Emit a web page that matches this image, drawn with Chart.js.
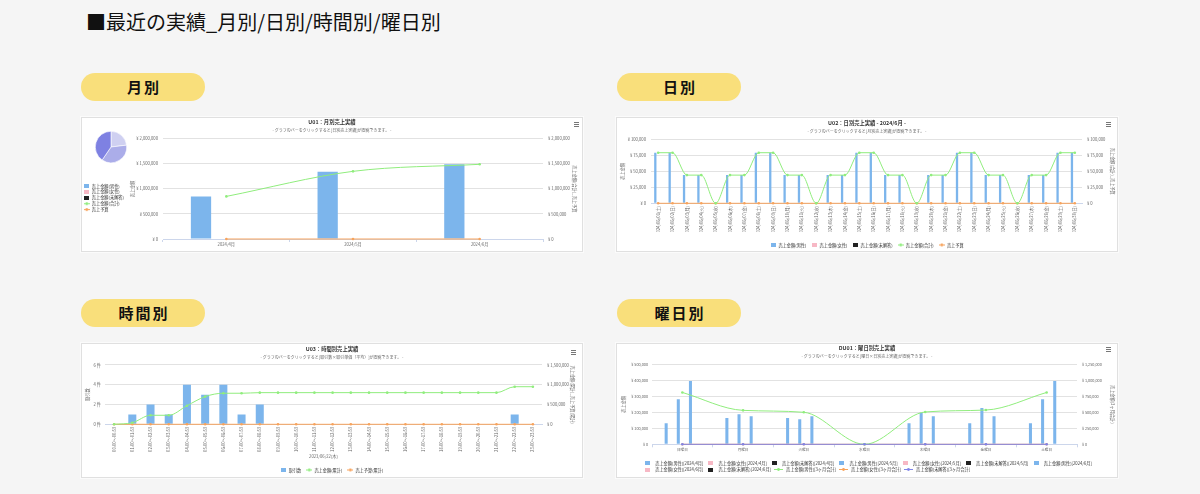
<!DOCTYPE html>
<html lang="ja">
<head>
<meta charset="utf-8">
<title>最近の実績</title>
<script src="https://cdn.jsdelivr.net/npm/chart.js@4.4.1/dist/chart.umd.min.js"></script>
<style>
html,body{margin:0;padding:0;}
body{width:1200px;height:494px;background:#f5f5f5;position:relative;overflow:hidden;font-family:'Noto Sans CJK JP','Noto Sans',sans-serif;}
.page-title{position:absolute;left:86px;top:9px;font-size:20px;line-height:26px;font-weight:400;color:#111;white-space:nowrap;}
.pill{position:absolute;width:124px;height:28px;border-radius:14px;background:#f9df7b;text-align:center;line-height:28px;font-size:15px;font-weight:bold;letter-spacing:2px;text-indent:2px;color:#111;}
.card{position:absolute;width:500px;height:133px;background:#fff;border:1px solid #e0e0e0;box-shadow:0 0 0 1px #fbfbfb;}
.card canvas{position:absolute;left:0;top:0;}
.menu{position:absolute;width:5px;height:5px;background:repeating-linear-gradient(#777 0 1px,transparent 1px 2px);}
</style>
</head>
<body>
<div class="page-title">■最近の実績_月別/日別/時間別/曜日別</div>
<div class="pill" style="left:81px;top:73px">月別</div>
<div class="pill" style="left:617px;top:73px">日別</div>
<div class="pill" style="left:81px;top:299px">時間別</div>
<div class="pill" style="left:617px;top:299px">曜日別</div>

<div class="card" style="left:81px;top:117px">
  <canvas id="c1" width="500" height="133" style="width:500px;height:133px"></canvas>
  <canvas id="c1pie" width="32" height="32" style="left:13px;top:13px;width:32px;height:32px"></canvas>
  <div class="menu" style="left:492px;top:4px"></div>
</div>
<div class="card" style="left:616px;top:117px">
  <canvas id="c2" width="500" height="133" style="width:500px;height:133px"></canvas>
  <div class="menu" style="left:489px;top:4px"></div>
</div>
<div class="card" style="left:81px;top:343px">
  <canvas id="c3" width="500" height="133" style="width:500px;height:133px"></canvas>
  <div class="menu" style="left:489px;top:6px"></div>
</div>
<div class="card" style="left:616px;top:343px">
  <canvas id="c4" width="500" height="133" style="width:500px;height:133px"></canvas>
  <div class="menu" style="left:489px;top:3px"></div>
</div>

<script>
// ---------------- data ----------------
const monthCategories = ['2024/4月', '2024/5月', '2024/6月'];
const monthMale = [850000, 1340000, 1490000];
const monthFemale = [0, 0, 0];
const monthUnknown = [0, 0, 0];
const monthTotal = [850000, 1350000, 1490000];
const monthBudget = [0, 0, 0];
const monthAxisTicks = [0, 500000, 1000000, 1500000, 2000000];

const dayCategories = ['2024/06/01(土)','2024/06/02(日)','2024/06/03(月)','2024/06/04(火)','2024/06/05(水)','2024/06/06(木)','2024/06/07(金)','2024/06/08(土)','2024/06/09(日)','2024/06/10(月)','2024/06/11(火)','2024/06/12(水)','2024/06/13(木)','2024/06/14(金)','2024/06/15(土)','2024/06/16(日)','2024/06/17(月)','2024/06/18(火)','2024/06/19(水)','2024/06/20(木)','2024/06/21(金)','2024/06/22(土)','2024/06/23(日)','2024/06/24(月)','2024/06/25(火)','2024/06/26(水)','2024/06/27(木)','2024/06/28(金)','2024/06/29(土)','2024/06/30(日)'];
const dayMale = [79000,79000,44000,44000,0,44000,44000,79000,79000,44000,44000,0,44000,44000,79000,79000,44000,44000,0,44000,44000,79000,79000,44000,44000,0,44000,44000,79000,79000];
const dayFemale = [0,0,0,0,0,0,0,0,0,0,0,0,0,0,0,0,0,0,0,0,0,0,0,0,0,0,0,0,0,0];
const dayUnknown = [0,0,0,0,0,0,0,0,0,0,0,0,0,0,0,0,0,0,0,0,0,0,0,0,0,0,0,0,0,0];
const dayTotal = [79000,79000,44000,44000,0,44000,44000,79000,79000,44000,44000,0,44000,44000,79000,79000,44000,44000,0,44000,44000,79000,79000,44000,44000,0,44000,44000,79000,79000];
const dayBudget = [0,0,0,0,0,0,0,0,0,0,0,0,0,0,0,0,0,0,0,0,0,0,0,0,0,0,0,0,0,0];
const dayAxisTicks = [0, 25000, 50000, 75000, 100000];

const hourCategories = ['00:00～00:59','01:00～01:59','02:00～02:59','03:00～03:59','04:00～04:59','05:00～05:59','06:00～06:59','07:00～07:59','08:00～08:59','09:00～09:59','10:00～10:59','11:00～11:59','12:00～12:59','13:00～13:59','14:00～14:59','15:00～15:59','16:00～16:59','17:00～17:59','18:00～18:59','19:00～19:59','20:00～20:59','21:00～21:59','22:00～22:59','23:00～23:59'];
const hourCount = [0,1,2,1,4,3,4,1,2,0,0,0,0,0,0,0,0,0,0,0,0,0,1,0];
const hourSalesCum = [0,40000,228000,228000,470000,700000,785000,785000,800000,800000,800000,800000,800000,800000,800000,800000,800000,800000,800000,800000,800000,800000,950000,950000];
const hourBudgetCum = [0,0,0,0,0,0,0,0,0,0,0,0,0,0,0,0,0,0,0,0,0,0,0,0];
const hourCountTicks = [0, 2, 4, 6];
const hourSalesTicks = [0, 500000, 1000000, 1500000];
const hourDateLabel = '2023/06/22(木)';

const weekdayCategories = ['日曜日','月曜日','火曜日','水曜日','木曜日','金曜日','土曜日'];
const wdMaleApr = [131000,164000,164000,0,131000,131000,131000];
const wdMaleMay = [281000,187000,156000,0,197000,227000,281000];
const wdMaleJun = [395000,176000,176000,0,176000,176000,395000];
const wdFemaleApr = [0,0,0,0,0,0,0];
const wdFemaleMay = [0,0,0,0,0,0,0];
const wdFemaleJun = [0,0,0,0,0,0,0];
const wdUnknownApr = [0,0,0,0,0,0,0];
const wdUnknownMay = [0,0,0,0,0,0,0];
const wdUnknownJun = [0,0,0,0,0,0,0];
const wdMale3m = [810000,530000,500000,0,505000,535000,810000];
const wdFemale3m = [0,0,0,0,0,0,0];
const wdUnknown3m = [0,0,0,0,0,0,0];
const weekdayLeftTicks = [0, 100000, 200000, 300000, 400000, 500000];
const weekdayRightTicks = [0, 250000, 500000, 750000, 1000000, 1250000];

// ---------------- styling ----------------
const C_BLUE = '#7cb5ec', C_PINK = '#f7b8c5', C_BLACK = '#222222', C_GREEN = '#90ed7d', C_ORANGE = '#f7a35c', C_PURPLE = '#8085e9';
const GRID = '#e2e2e2', AXIS = '#ccd6eb';
const CANVAS_H = 133, CANVAS_W = 500;

Chart.defaults.font.family = "'Noto Sans CJK JP','Noto Sans',sans-serif";
Chart.defaults.color = '#666';
Chart.defaults.animation = false;
Chart.defaults.responsive = false;
Chart.defaults.devicePixelRatio = 1;
Chart.defaults.events = [];
Chart.defaults.plugins.tooltip.enabled = false;

const legendShift = {
  id: 'legendShift',
  afterLayout(chart, args, opts) {
    const lg = chart.legend;
    if (!lg || !opts || !lg.options.display) return;
    let dx = opts.dx || 0, dy = opts.dy || 0;
    if (opts.centerRows && lg.lineWidths) {
      const pad = lg.options.labels.padding;
      dx += (lg.right - lg.left - lg.lineWidths[0] - pad) / 2;
    }
    lg.left += dx; lg.right += dx; lg.top += dy; lg.bottom += dy;
  }
};
Chart.register(legendShift);

const yen = v => '¥ ' + Number(v).toLocaleString('en-US');

function boxMarker(color, w, h) {
  const c = document.createElement('canvas');
  c.width = w; c.height = h;
  const g = c.getContext('2d');
  g.fillStyle = color; g.fillRect(0, 0, w, h);
  return c;
}
function lineMarker(color, w, h) {
  const c = document.createElement('canvas');
  c.width = w; c.height = h;
  const g = c.getContext('2d');
  g.strokeStyle = color; g.lineWidth = 1;
  g.beginPath(); g.moveTo(0, h / 2); g.lineTo(w, h / 2); g.stroke();
  g.fillStyle = color; g.beginPath(); g.arc(w / 2, h / 2, 1.4, 0, Math.PI * 2); g.fill();
  return c;
}
function makeLabels(lw) {
  return chart => {
    const items = Chart.defaults.plugins.legend.labels.generateLabels(chart);
    items.forEach(it => {
      const ds = chart.data.datasets[it.datasetIndex];
      it.pointStyle = ds.type === 'line' ? lineMarker(ds.borderColor, lw, 5) : boxMarker(ds.backgroundColor, 5, 4);
    });
    return items;
  };
}
function legendCfg(o) {
  return {
    display: true, position: o.position, align: o.align, fullSize: true, maxWidth: o.maxWidth,
    labels: {
      usePointStyle: true, pointStyleWidth: o.psw, padding: o.pad, color: '#333',
      font: { size: o.font || 4.2 },
      sort: (a, b) => a.datasetIndex - b.datasetIndex,
      generateLabels: makeLabels(o.lw || 6)
    }
  };
}
function titleCfg(text, padTop) {
  return { display: true, text, color: '#333', font: { size: 5.3, weight: 'bold' }, padding: { top: padTop, bottom: 0 } };
}
function subtitleCfg(text, padBottom) {
  return { display: true, text, color: '#666', font: { size: 4 }, padding: { top: 3.3, bottom: padBottom } };
}
function yScale(o) {
  return {
    type: 'linear', position: o.position,
    min: o.ticks[0], max: o.ticks[o.ticks.length - 1],
    afterBuildTicks: s => { s.ticks = o.ticks.map(v => ({ value: v })); },
    afterFit: s => { s.width = o.width; },
    grid: { drawOnChartArea: o.position === 'left', drawTicks: false, color: GRID, lineWidth: 1 },
    border: { display: false },
    ticks: { padding: o.pad, font: { size: o.font || 4.2 }, color: '#666', callback: o.fmt },
    title: { display: true, text: o.title, color: '#666', font: { size: 4.2 }, padding: { top: o.tpad, bottom: 0 } }
  };
}
function legendH(chart) {
  const lg = chart.legend;
  return (lg && lg.options.display && lg.options.position === 'bottom') ? lg.height : 0;
}
function xScale(o) {
  return {
    type: 'category',
    grid: { drawOnChartArea: false, drawTicks: o.drawTicks, tickLength: 3, color: AXIS, offset: true },
    border: { display: true, color: AXIS, width: 1 },
    ticks: { autoSkip: false, maxRotation: o.rot, minRotation: o.rot, padding: o.pad, font: { size: o.font || 4.2 }, color: '#666' },
    afterFit: s => { s.height = CANVAS_H - o.areaBottom - legendH(s.chart); },
    title: o.title ? { display: true, text: o.title, color: '#666', font: { size: 4.2 }, padding: { top: 0, bottom: o.titlePad } } : { display: false }
  };
}
function barDs(label, data, color, axis) {
  return { type: 'bar', label, data, yAxisID: axis, backgroundColor: color, borderColor: color, borderWidth: 0, order: 2 };
}
function lineDs(label, data, color, axis, order) {
  return {
    type: 'line', label, data, yAxisID: axis, borderColor: color, backgroundColor: color,
    borderWidth: 1, pointRadius: 1.3, pointHoverRadius: 1.3, pointBorderWidth: 0, pointBackgroundColor: color,
    cubicInterpolationMode: 'monotone', fill: false, clip: false, order: order === undefined ? 1 : order
  };
}

// ---------------- chart 1: 月別 ----------------
new Chart(document.getElementById('c1'), {
  type: 'bar',
  data: {
    labels: monthCategories,
    datasets: [
      barDs('売上金額(男性)', monthMale, C_BLUE, 'y'),
      barDs('売上金額(女性)', monthFemale, C_PINK, 'y'),
      barDs('売上金額(未解答)', monthUnknown, C_BLACK, 'y'),
      lineDs('売上金額(合計)', monthTotal, C_GREEN, 'y1'),
      lineDs('売上予算', monthBudget, C_ORANGE, 'y1')
    ]
  },
  options: {
    layout: { padding: 0 },
    datasets: { bar: { categoryPercentage: 0.6, barPercentage: 0.8 } },
    plugins: {
      title: titleCfg('U01：月別売上実績', 0.7),
      subtitle: subtitleCfg('- グラフのバーをクリックすると[日別売上実績]が閲覧できます。 -', 5.6),
      legend: legendCfg({ position: 'left', align: 'center', maxWidth: 46, psw: 6, pad: 1.7 }),
      legendShift: { dy: 13.3 }
    },
    scales: {
      x: xScale({ drawTicks: true, rot: 0, pad: 0, areaBottom: 121 }),
      y: yScale({ position: 'left', ticks: monthAxisTicks, width: 35, pad: 5, fmt: yen, title: '売上金額', tpad: 1.5 }),
      y1: yScale({ position: 'right', ticks: monthAxisTicks, width: 39, pad: 5, fmt: yen, title: '売上金額(合計)_売上予算', tpad: 4.5 })
    }
  }
});

new Chart(document.getElementById('c1pie'), {
  type: 'pie',
  data: {
    labels: monthCategories,
    datasets: [{ data: monthMale, backgroundColor: ['#cfd0f1', '#abade9', '#7e81e2'], borderColor: '#ffffff', borderWidth: 0.6 }]
  },
  options: { layout: { padding: 0 }, plugins: { legend: { display: false }, title: { display: false } } }
});

// ---------------- chart 2: 日別 ----------------
new Chart(document.getElementById('c2'), {
  type: 'bar',
  data: {
    labels: dayCategories,
    datasets: [
      barDs('売上金額(男性)', dayMale, C_BLUE, 'y'),
      barDs('売上金額(女性)', dayFemale, C_PINK, 'y'),
      barDs('売上金額(未解答)', dayUnknown, C_BLACK, 'y'),
      lineDs('売上金額(合計)', dayTotal, C_GREEN, 'y1'),
      lineDs('売上予算', dayBudget, C_ORANGE, 'y1')
    ]
  },
  options: {
    layout: { padding: 0 },
    datasets: { bar: { categoryPercentage: 0.6, barPercentage: 0.8 } },
    plugins: {
      title: titleCfg('U02：日別売上実績 - 2024/6月 -', 1.7),
      subtitle: subtitleCfg('- グラフのバーをクリックすると[月別売上実績]が閲覧できます。 -', 5.1),
      legend: legendCfg({ position: 'bottom', align: 'center', psw: 6, pad: 5 }),
      legendShift: { dy: 6.1 }
    },
    scales: {
      x: xScale({ drawTicks: false, rot: 90, pad: 2.7, areaBottom: 85.3 }),
      y: yScale({ position: 'left', ticks: dayAxisTicks, width: 34, pad: 5, fmt: yen, title: '売上金額', tpad: 2.5 }),
      y1: yScale({ position: 'right', ticks: dayAxisTicks, width: 35, pad: 5, fmt: yen, title: '売上金額(合計)_売上予算', tpad: 1.5 })
    }
  }
});

// ---------------- chart 3: 時間別 ----------------
new Chart(document.getElementById('c3'), {
  type: 'bar',
  data: {
    labels: hourCategories,
    datasets: [
      barDs('取引数', hourCount, C_BLUE, 'y'),
      lineDs('売上金額(累計)', hourSalesCum, C_GREEN, 'y1'),
      lineDs('売上予算(累計)', hourBudgetCum, C_ORANGE, 'y1')
    ]
  },
  options: {
    layout: { padding: 0 },
    datasets: { bar: { categoryPercentage: 0.8, barPercentage: 0.55 } },
    plugins: {
      title: titleCfg('U03：時間別売上実績', 1.7),
      subtitle: subtitleCfg('- グラフのバーをクリックすると[取引数×取引単価（平均）]が閲覧できます。 -', 4.8),
      legend: legendCfg({ position: 'bottom', align: 'center', psw: 6, pad: 5 }),
      legendShift: { dy: 5.1 }
    },
    scales: {
      x: xScale({ drawTicks: false, rot: 90, pad: 2.5, areaBottom: 80.3, title: hourDateLabel, titlePad: -0.7 }),
      y: yScale({ position: 'left', ticks: hourCountTicks, width: 23, pad: 4, fmt: v => v + ' 件', title: '取引数', tpad: 2.5 }),
      y1: yScale({ position: 'right', ticks: hourSalesTicks, width: 40, pad: 5, fmt: yen, title: '売上金額(累計)_売上予算(累計)', tpad: 6.5 })
    }
  }
});

// ---------------- chart 4: 曜日別 ----------------
new Chart(document.getElementById('c4'), {
  type: 'bar',
  data: {
    labels: weekdayCategories,
    datasets: [
      barDs('売上金額(男性)[2024/4月]', wdMaleApr, C_BLUE, 'y'),
      barDs('売上金額(女性)[2024/4月]', wdFemaleApr, C_PINK, 'y'),
      barDs('売上金額(未解答)[2024/4月]', wdUnknownApr, C_BLACK, 'y'),
      barDs('売上金額(男性)[2024/5月]', wdMaleMay, C_BLUE, 'y'),
      barDs('売上金額(女性)[2024/5月]', wdFemaleMay, C_PINK, 'y'),
      barDs('売上金額(未解答)[2024/5月]', wdUnknownMay, C_BLACK, 'y'),
      barDs('売上金額(男性)[2024/6月]', wdMaleJun, C_BLUE, 'y'),
      barDs('売上金額(女性)[2024/6月]', wdFemaleJun, C_PINK, 'y'),
      barDs('売上金額(未解答)[2024/6月]', wdUnknownJun, C_BLACK, 'y'),
      lineDs('売上金額(男性)[3ヶ月合計]', wdMale3m, C_GREEN, 'y1', 1),
      lineDs('売上金額(女性)[3ヶ月合計]', wdFemale3m, C_ORANGE, 'y1', 1),
      lineDs('売上金額(未解答)[3ヶ月合計]', wdUnknown3m, C_PURPLE, 'y1', 0)
    ]
  },
  options: {
    layout: { padding: 0 },
    datasets: { bar: { categoryPercentage: 0.6, barPercentage: 0.75 } },
    plugins: {
      title: titleCfg('DU01：曜日別売上実績', 0.7),
      subtitle: subtitleCfg('- グラフのバーをクリックすると[曜日×日別売上実績]が閲覧できます。 -', 5.1),
      legend: legendCfg({ position: 'bottom', align: 'start', psw: 11, pad: 2, lw: 9 }),
      legendShift: { dy: 4.6, centerRows: true }
    },
    scales: {
      x: xScale({ drawTicks: true, rot: 0, pad: 0, areaBottom: 100.3, font: 3.6 }),
      y: yScale({ position: 'left', ticks: weekdayLeftTicks, width: 35, pad: 4, fmt: yen, title: '売上金額', tpad: 3.5, font: 3.8 }),
      y1: yScale({ position: 'right', ticks: weekdayRightTicks, width: 40, pad: 5, fmt: yen, title: '売上金額(3ヶ月合計)', tpad: 1.5, font: 3.8 })
    }
  }
});
</script>
</body>
</html>
